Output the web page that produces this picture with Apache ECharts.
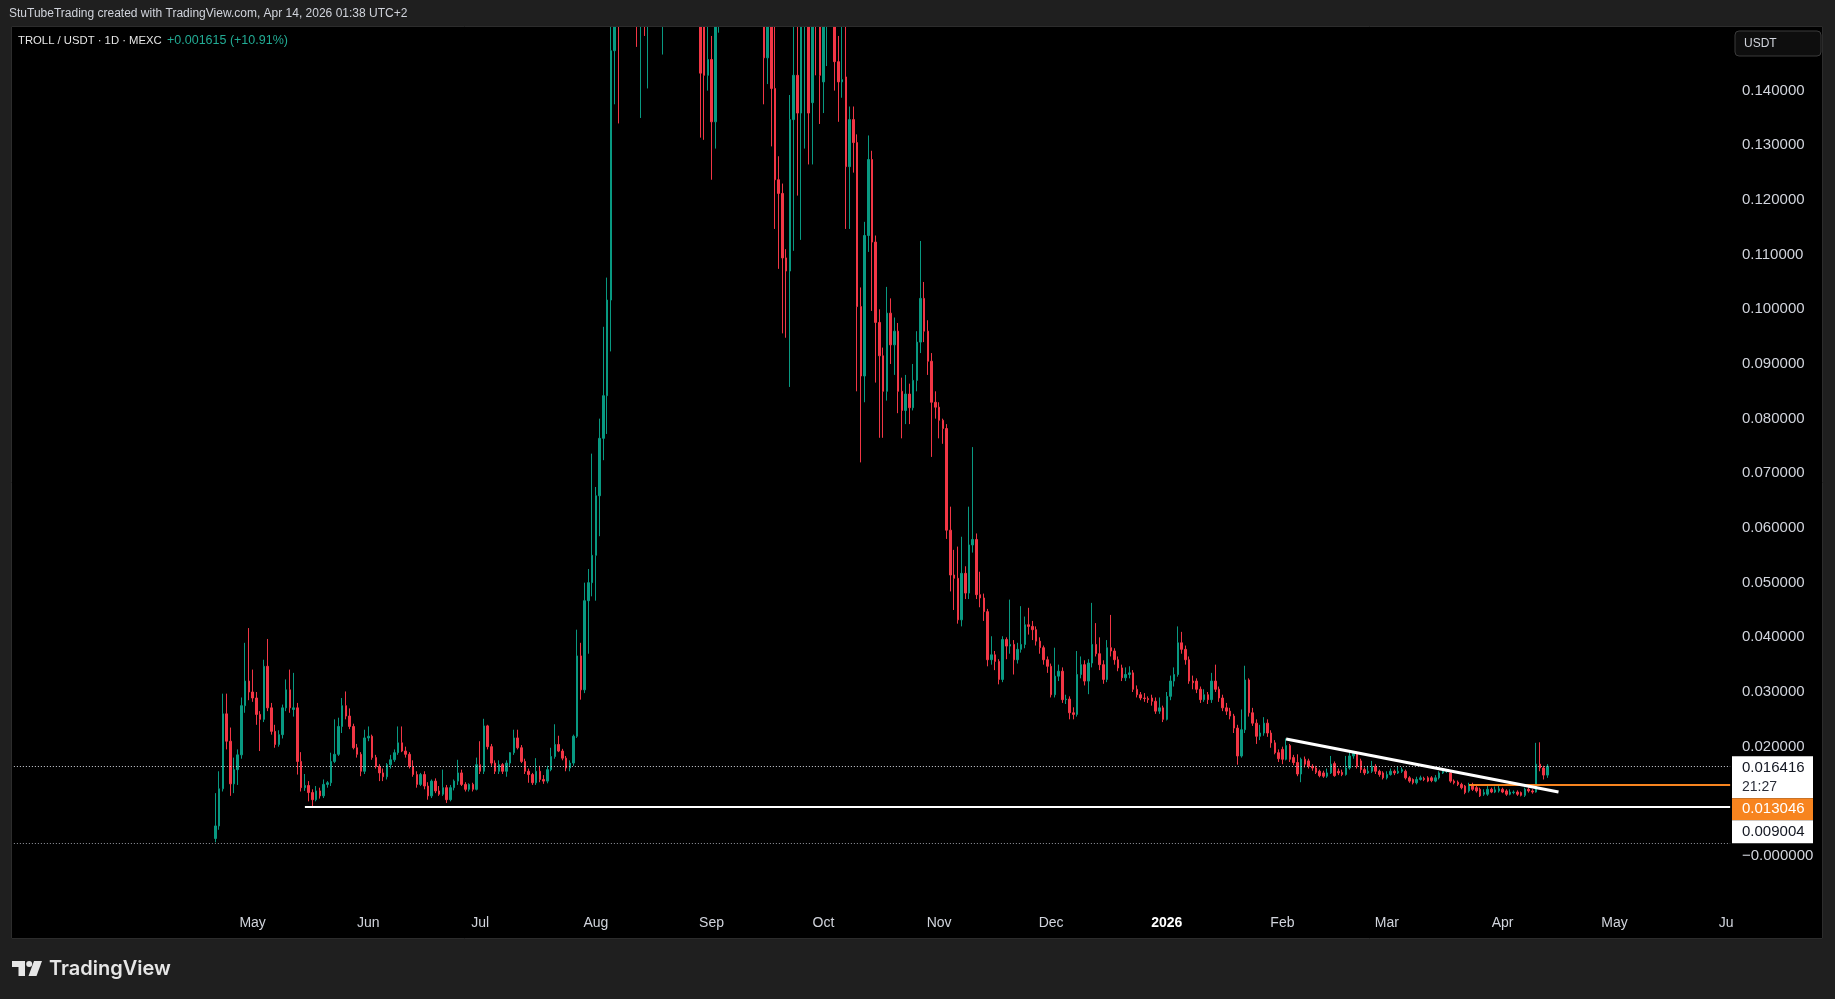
<!DOCTYPE html>
<html><head><meta charset="utf-8">
<script src="https://cdn.jsdelivr.net/npm/echarts@6/dist/echarts.min.js"></script>
<style>html,body{margin:0;padding:0;background:#1f1f1f;overflow:hidden}#c{width:1835px;height:999px}</style>
</head><body><div id="c"></div>
<script>
// ---- data (TROLL/USDT daily, MEXC) ----
const firstDay = '2025-04-21';
const opens = [
.0032,.0055,.0123,.0260,.0210,.0132,.0158,.0185,.0275,.0320,
.0300,.0289,.0259,.0250,.0347,.0271,.0228,.0204,.0222,.0271,
.0304,.0268,.0271,.0173,.0125,.0129,.0116,.0103,.0119,.0110,
.0131,.0134,.0173,.0186,.0237,.0275,.0256,.0237,.0198,.0186,
.0155,.0216,.0219,.0180,.0164,.0152,.0145,.0167,.0176,.0189,
.0207,.0192,.0186,.0164,.0149,.0131,.0149,.0128,.0110,.0137,
.0119,.0113,.0125,.0103,.0125,.0137,.0152,.0131,.0122,.0131,
.0122,.0167,.0155,.0238,.0200,.0170,.0155,.0167,.0155,.0170,
.0189,.0216,.0198,.0173,.0155,.0149,.0134,.0155,.0140,.0137,
.0158,.0182,.0204,.0192,.0179,.0161,.0170,.0219,.0366,.0304,
.0467,.0500,.0550,.0659,.0764,.0842,.1017,.1473,.20,.19,
.21,.23,.22,.21,.19,.20,.18,.20,.22,.21,
.20,.21,.22,.24,.23,.21,.19,.20,.21,.18,
.185,.158,.1428,.1457,.1343,.19,.20,.22,.24,.22,
.20,.19,.18,.20,.21,.19,.18,.19,.146,.17,
.1404,.1237,.1212,.1094,.1070,.1347,.1428,.1359,.17,.18,
.1378,.17,.16,.1416,.17,.18,.175,.1453,.1416,.1425,
.1261,.1347,.1305,.1005,.0878,.1135,.1274,.1123,.0976,.0915,
.0850,.0993,.0935,.0960,.0850,.0815,.0845,.0820,.0870,.0940,
.1020,.0960,.0905,.0830,.0821,.0797,.0782,.0596,.0514,.0508,
.0432,.0517,.0481,.0569,.0579,.0478,.0472,.0447,.0359,.0368,
.0356,.0323,.0396,.0384,.0387,.0359,.0378,.0387,.0423,.0420,
.0414,.0393,.0381,.0359,.0347,.0295,.0329,.0338,.0286,.0287,
.0262,.0259,.0332,.0350,.0320,.0353,.0387,.0370,.0350,.0323,
.0381,.0375,.0359,.0344,.0326,.0332,.0335,.0305,.0295,.0289,
.0288,.0289,.0283,.0265,.0271,.0250,.0292,.0320,.0332,.0390,
.0378,.0359,.0320,.0320,.0305,.0286,.0295,.0286,.0320,.0305,
.0289,.0271,.0265,.0256,.0234,.0183,.0231,.0322,.0262,.0243,
.0219,.0225,.0243,.0225,.0207,.0189,.0195,.0177,.0202,.0180,
.0171,.0150,.0177,.0174,.0164,.0161,.0155,.0152,.0146,.0152,
.0169,.0155,.0153,.0149,.0161,.0183,.0189,.0174,.0158,.0152,
.0155,.0164,.0155,.0152,.0143,.0149,.0155,.0152,.0155,.0155,
.0143,.0140,.0134,.0140,.0142,.0143,.0143,.0137,.0143,.0152,
.0155,.0152,.0137,.0135,.0131,.0128,.0119,.0128,.0125,.0122,
.0113,.0113,.0122,.0117,.0119,.0122,.0119,.0113,.0116,.0117,
.0116,.0111,.0122,.0119,.0117,.0168,.0161,.0148];
const highs = [
.0115,.0155,.0297,.0297,.0235,.0180,.0195,.0290,.0390,.0417,
.0341,.0300,.0265,.0359,.0397,.0280,.0240,.0230,.0277,.0323,
.0341,.0335,.0280,.0190,.0150,.0137,.0122,.0128,.0125,.0140,
.0137,.0189,.0250,.0253,.0289,.0301,.0270,.0242,.0205,.0190,
.0231,.0237,.0222,.0185,.0168,.0160,.0170,.0185,.0195,.0237,
.0237,.0200,.0190,.0175,.0155,.0152,.0155,.0135,.0140,.0142,
.0128,.0158,.0130,.0130,.0140,.0176,.0158,.0135,.0133,.0134,
.0180,.0210,.0251,.0240,.0205,.0175,.0175,.0170,.0175,.0190,
.0231,.0231,.0203,.0178,.0160,.0152,.0179,.0165,.0148,.0165,
.0198,.0241,.0220,.0196,.0183,.0175,.0222,.0414,.0390,.0500,
.0525,.0736,.0675,.0800,.0968,.1058,.175,.22,.23,.24,
.25,.26,.25,.23,.22,.22,.21,.23,.25,.24,
.23,.24,.26,.27,.25,.23,.22,.23,.23,.20,
.21,.17,.160,.150,.21,.22,.23,.25,.26,.24,
.22,.21,.21,.22,.23,.21,.20,.20,.19,.18,
.16,.128,.123,.111,.1392,.17,.17,.19,.20,.19,
.19,.18,.175,.19,.20,.20,.185,.150,.16,.16,
.1371,.1371,.1320,.1040,.1160,.1318,.1290,.1135,.1000,.0930,
.1041,.1020,.0985,.0975,.0875,.0880,.0864,.0900,.0960,.1125,
.1050,.0980,.0920,.0850,.0830,.0800,.0790,.0639,.0560,.0566,
.0584,.0530,.0639,.0748,.0590,.0520,.0480,.0452,.0402,.0375,
.0360,.0402,.0400,.0469,.0395,.0390,.0457,.0438,.0454,.0430,
.0420,.0400,.0385,.0365,.0352,.0381,.0350,.0345,.0295,.0292,
.0272,.0375,.0365,.0358,.0360,.0463,.0426,.0400,.0358,.0395,
.0441,.0380,.0365,.0350,.0345,.0347,.0340,.0312,.0300,.0298,
.0292,.0295,.0290,.0290,.0275,.0300,.0330,.0345,.0420,.0410,
.0385,.0365,.0330,.0325,.0310,.0305,.0300,.0335,.0350,.0310,
.0295,.0280,.0271,.0260,.0240,.0268,.0348,.0325,.0271,.0250,
.0240,.0254,.0250,.0230,.0212,.0195,.0200,.0215,.0205,.0185,
.0186,.0180,.0182,.0178,.0168,.0165,.0158,.0156,.0160,.0183,
.0173,.0160,.0158,.0183,.0190,.0192,.0191,.0178,.0162,.0165,
.0174,.0168,.0158,.0155,.0155,.0160,.0158,.0164,.0162,.0158,
.0146,.0142,.0145,.0147,.0145,.0146,.0146,.0148,.0155,.0160,
.0159,.0155,.0140,.0138,.0134,.0130,.0134,.0134,.0128,.0125,
.0122,.0128,.0125,.0127,.0128,.0125,.0122,.0122,.0120,.0120,
.0118,.0125,.0126,.0122,.0207,.0208,.0165,.0168];
const lows = [
.0025,.0048,.0118,.0195,.0110,.0115,.0130,.0178,.0262,.0285,
.0282,.0240,.0192,.0245,.0265,.0222,.0198,.0200,.0215,.0265,
.0262,.0255,.0149,.0118,.0119,.0100,.0090,.0100,.0105,.0106,
.0125,.0128,.0170,.0183,.0225,.0250,.0232,.0195,.0180,.0146,
.0150,.0210,.0176,.0160,.0137,.0137,.0140,.0160,.0172,.0185,
.0190,.0180,.0160,.0145,.0125,.0128,.0122,.0103,.0106,.0115,
.0110,.0110,.0097,.0100,.0120,.0130,.0128,.0118,.0118,.0118,
.0120,.0150,.0150,.0195,.0165,.0150,.0150,.0150,.0145,.0165,
.0185,.0195,.0170,.0150,.0134,.0130,.0130,.0135,.0132,.0133,
.0155,.0178,.0190,.0175,.0155,.0155,.0165,.0216,.0286,.0298,
.0370,.0475,.0467,.0585,.0724,.0772,.0923,.1375,.134,.165,
.19,.20,.19,.148,.135,.150,.1404,.18,.20,.19,
.1466,.19,.20,.22,.20,.18,.17,.18,.17,.16,
.1314,.1310,.1400,.1237,.1294,.1506,.18,.20,.21,.19,
.17,.165,.16,.18,.18,.165,.16,.1375,.1412,.1298,
.1147,.1074,.0956,.0948,.0858,.1107,.1208,.1127,.1294,.1265,
.1265,.1428,.1339,.1359,.1445,.156,.1400,.1343,.1387,.1147,
.1147,.1250,.0850,.0720,.0830,.1105,.0997,.0866,.0765,.0765,
.0833,.0900,.0880,.0810,.0764,.0790,.0790,.0815,.0850,.0920,
.0940,.0880,.0730,.0800,.0764,.0754,.0580,.0484,.0450,.0425,
.0420,.0470,.0470,.0555,.0470,.0455,.0430,.0347,.0350,.0340,
.0314,.0318,.0360,.0370,.0332,.0352,.0372,.0380,.0405,.0395,
.0385,.0370,.0350,.0335,.0290,.0290,.0320,.0280,.0278,.0250,
.0250,.0255,.0325,.0312,.0296,.0345,.0365,.0340,.0315,.0318,
.0365,.0350,.0338,.0320,.0320,.0325,.0300,.0290,.0285,.0282,
.0280,.0275,.0260,.0260,.0245,.0248,.0285,.0310,.0328,.0370,
.0350,.0315,.0305,.0298,.0280,.0282,.0278,.0280,.0300,.0282,
.0265,.0258,.0250,.0225,.0167,.0180,.0225,.0255,.0238,.0205,
.0212,.0220,.0218,.0198,.0186,.0172,.0168,.0175,.0172,.0166,
.0146,.0135,.0162,.0160,.0156,.0150,.0144,.0143,.0143,.0150,
.0145,.0148,.0146,.0147,.0158,.0178,.0160,.0152,.0148,.0150,
.0152,.0150,.0145,.0140,.0140,.0147,.0148,.0150,.0152,.0140,
.0134,.0131,.0131,.0138,.0137,.0135,.0135,.0135,.0140,.0150,
.0152,.0134,.0131,.0128,.0122,.0113,.0116,.0119,.0116,.0108,
.0110,.0110,.0115,.0115,.0116,.0115,.0110,.0111,.0113,.0110,
.0109,.0108,.0116,.0114,.0116,.0155,.0140,.0143];
const closes = [
.0055,.0123,.0260,.0210,.0132,.0158,.0185,.0275,.0320,.0300,
.0289,.0259,.0250,.0347,.0271,.0228,.0204,.0222,.0271,.0304,
.0271,.0271,.0173,.0125,.0129,.0116,.0103,.0119,.0110,.0131,
.0134,.0173,.0186,.0237,.0275,.0256,.0237,.0198,.0186,.0155,
.0216,.0219,.0180,.0164,.0152,.0145,.0167,.0176,.0189,.0207,
.0192,.0186,.0164,.0149,.0131,.0149,.0128,.0110,.0137,.0119,
.0113,.0125,.0103,.0125,.0137,.0152,.0131,.0122,.0131,.0122,
.0167,.0155,.0238,.0200,.0170,.0155,.0167,.0155,.0170,.0189,
.0216,.0198,.0173,.0155,.0149,.0134,.0155,.0140,.0137,.0158,
.0182,.0204,.0192,.0179,.0161,.0170,.0219,.0366,.0304,.0467,
.0500,.0550,.0659,.0764,.0842,.1017,.1473,.20,.19,.21,
.23,.22,.21,.19,.20,.18,.20,.22,.21,.20,
.21,.22,.24,.23,.21,.19,.20,.21,.18,.185,
.1432,.1428,.1457,.1343,.19,.20,.22,.24,.22,.20,
.19,.18,.20,.21,.19,.18,.19,.146,.17,.1404,
.1237,.1212,.1094,.1070,.1347,.1428,.1359,.17,.18,.1359,
.17,.16,.1428,.17,.18,.175,.1453,.1416,.1420,.1261,
.1347,.1305,.1005,.0878,.1135,.1274,.1123,.0976,.0915,.0850,
.0993,.0935,.0960,.0850,.0815,.0845,.0820,.0870,.0940,.1020,
.0960,.0905,.0830,.0821,.0797,.0782,.0596,.0514,.0508,.0432,
.0517,.0481,.0569,.0579,.0478,.0472,.0447,.0359,.0368,.0356,
.0323,.0396,.0384,.0387,.0359,.0378,.0387,.0423,.0420,.0414,
.0393,.0381,.0359,.0347,.0295,.0329,.0338,.0286,.0287,.0262,
.0259,.0332,.0350,.0320,.0353,.0387,.0370,.0350,.0323,.0381,
.0375,.0359,.0344,.0326,.0332,.0335,.0305,.0295,.0289,.0288,
.0286,.0283,.0265,.0271,.0250,.0292,.0320,.0332,.0390,.0378,
.0359,.0320,.0317,.0305,.0286,.0295,.0286,.0320,.0305,.0289,
.0271,.0265,.0256,.0234,.0183,.0231,.0322,.0262,.0243,.0219,
.0225,.0243,.0225,.0207,.0189,.0178,.0177,.0202,.0177,.0171,
.0150,.0177,.0168,.0164,.0161,.0153,.0147,.0146,.0152,.0168,
.0147,.0152,.0149,.0161,.0183,.0189,.0164,.0158,.0152,.0155,
.0164,.0155,.0149,.0143,.0149,.0155,.0152,.0155,.0158,.0143,
.0137,.0134,.0140,.0143,.0140,.0137,.0138,.0143,.0152,.0155,
.0157,.0137,.0134,.0131,.0125,.0116,.0128,.0122,.0119,.0110,
.0116,.0122,.0117,.0121,.0123,.0117,.0113,.0117,.0117,.0113,
.0111,.0122,.0119,.0117,.0168,.0161,.0148,.016416];

// axis / annotation values
const monthNames = ['Jan','Feb','Mar','Apr','May','Jun','Jul','Aug','Sep','Oct','Nov','Dec'];
const axisStartDay = -54, axisEndDay = 406;      // visible time range, days from firstDay
const yMin = -0.00951, yMax = 0.15164;            // visible price range
const yTickValues = [0, 0.02, 0.03, 0.04, 0.05, 0.06, 0.07, 0.08, 0.09, 0.10, 0.11, 0.12, 0.13, 0.14];
const lastPrice = 0.016416, lastTimer = '21:27';
const orangeLevel = 0.013046, orangeStartDay = 336;
const whiteLevel = 0.009004, whiteStartDay = 24;
const lowDottedLevel = 0.0024;
const trendDays = [287, 360], trendPrices = [0.0214, 0.0117];
const headerText = 'StuTubeTrading created with TradingView.com, Apr 14, 2026 01:38 UTC+2';
const symbolText = 'TROLL / USDT · 1D · MEXC';
const changeText = '+0.001615 (+10.91%)';

// ---- build ----
const base = Date.UTC(2025, 3, 21);
function dayStr(k) { return new Date(base + k * 86400000).toISOString().slice(0, 10); }
const cats = [];
for (let k = axisStartDay; k <= axisEndDay; k++) cats.push(dayStr(k));
const rows = opens.map((o, i) => [dayStr(i), o, closes[i], lows[i], highs[i]]);

const UP = '#089981', DOWN = '#f23645', TXT = '#d1d4dc';
const FONT = '"Liberation Sans", Arial, sans-serif';

const chart = echarts.init(document.getElementById('c'), null, { renderer: 'canvas' });
const option = {
  backgroundColor: '#000000',
  animation: false,
  grid: { left: 12, right: 103, top: 27, bottom: 91, containLabel: false },
  xAxis: {
    type: 'category', data: cats, boundaryGap: true,
    axisLine: { show: false }, axisTick: { show: false }, splitLine: { show: false },
    axisLabel: {
      color: TXT, fontSize: 14, fontFamily: FONT, margin: 8,
      interval: (idx, val) => val.slice(8) === '01' && val >= firstDay,
      formatter: (val) => {
        const m = +val.slice(5, 7) - 1;
        return m === 0 ? '{b|' + val.slice(0, 4) + '}' : monthNames[m];
      },
      rich: { b: { color: '#ffffff', fontWeight: 'bold', fontSize: 14, fontFamily: FONT } }
    }
  },
  yAxis: {
    type: 'value', position: 'right', min: yMin, max: yMax, scale: true,
    axisLine: { show: false }, axisTick: { show: false }, splitLine: { show: false },
    axisLabel: {
      customValues: yTickValues, color: TXT, fontSize: 15, fontFamily: FONT, margin: 10,
      formatter: (v) => Math.abs(v) < 1e-9 ? '\u22120.000000' : v.toFixed(6)
    }
  },
  series: [{
    type: 'candlestick',
    dimensions: ['date', 'open', 'close', 'lowest', 'highest'],
    encode: { x: 0, y: [1, 2, 3, 4] },
    data: rows, clip: true, barWidth: 2,
    itemStyle: { color: UP, color0: DOWN, borderColor: UP, borderColor0: DOWN, borderWidth: 1 },
    markLine: {
      silent: true, symbol: ['none', 'none'], animation: false, label: { show: false }, precision: 8,
      data: [
        [{ coord: [dayStr(axisStartDay), lastPrice], lineStyle: { type: [1, 2], color: '#d1d4dc', width: 1 } },
         { coord: [dayStr(axisEndDay), lastPrice] }],
        [{ coord: [dayStr(axisStartDay), lowDottedLevel], lineStyle: { type: [1, 2], color: '#9598a1', width: 1 } },
         { coord: [dayStr(axisEndDay), lowDottedLevel] }],
        [{ coord: [dayStr(whiteStartDay), whiteLevel], lineStyle: { type: 'solid', color: '#ffffff', width: 2 } },
         { coord: [dayStr(axisEndDay), whiteLevel] }],
        [{ coord: [dayStr(orangeStartDay), orangeLevel], lineStyle: { type: 'solid', color: '#f7841f', width: 2 } },
         { coord: [dayStr(axisEndDay), orangeLevel] }],
        [{ coord: [dayStr(trendDays[0]), trendPrices[0]], lineStyle: { type: 'solid', color: '#ffffff', width: 3 } },
         { coord: [dayStr(trendDays[1]), trendPrices[1]] }]
      ]
    }
  }]
};
chart.setOption(option);

// ---- overlay: frame, header, tags, logo ----
const yOf = (v) => chart.convertToPixel({ yAxisIndex: 0 }, v);
const tag1Top = yOf(lastPrice) - 10;
const tag2Top = Math.max(yOf(orangeLevel) - 11, tag1Top + 42);
const tag3Top = Math.max(yOf(whiteLevel) - 11, tag2Top + 22);
const FR = '#1f1f1f';
const g = [
  { type: 'rect', z: 100, shape: { x: 0, y: 0, width: 1835, height: 26 }, style: { fill: FR } },
  { type: 'rect', z: 100, shape: { x: 0, y: 939, width: 1835, height: 60 }, style: { fill: FR } },
  { type: 'rect', z: 100, shape: { x: 0, y: 0, width: 11, height: 999 }, style: { fill: FR } },
  { type: 'rect', z: 100, shape: { x: 1823, y: 0, width: 12, height: 999 }, style: { fill: FR } },
  { type: 'rect', z: 101, shape: { x: 11.5, y: 26.5, width: 1811, height: 912 }, style: { fill: null, stroke: '#2c2c2c', lineWidth: 1 } },
  { type: 'rect', z: 99, shape: { x: 1733, y: 909, width: 89, height: 29 }, style: { fill: '#000' } },
  { type: 'text', z: 102, x: 9, y: 14, style: { text: headerText, fill: TXT, font: '12px ' + FONT, verticalAlign: 'middle' } },
  { type: 'text', z: 102, x: 18, y: 41, style: { text: symbolText, fill: '#e6e6e6', font: '11.3px ' + FONT, verticalAlign: 'middle' } },
  { type: 'text', z: 102, x: 167, y: 41, style: { text: changeText, fill: '#22ab94', font: '12.5px ' + FONT, verticalAlign: 'middle' } },
  { type: 'rect', z: 102, shape: { x: 1735, y: 31, width: 86, height: 25, r: 4 }, style: { fill: '#0e0e0e', stroke: '#3a3a3a', lineWidth: 1 } },
  { type: 'text', z: 103, x: 1744, y: 43.5, style: { text: 'USDT', fill: TXT, font: '12px ' + FONT, verticalAlign: 'middle' } },
  // price tags
  { type: 'rect', z: 102, shape: { x: 1732, y: tag1Top, width: 81, height: 42 }, style: { fill: '#ffffff' } },
  { type: 'text', z: 103, x: 1742, y: tag1Top + 12, style: { text: lastPrice.toFixed(6), fill: '#131722', font: '15px ' + FONT, verticalAlign: 'middle' } },
  { type: 'text', z: 103, x: 1742, y: tag1Top + 31, style: { text: lastTimer, fill: '#2a2e39', font: '14px ' + FONT, verticalAlign: 'middle' } },
  { type: 'rect', z: 102, shape: { x: 1732, y: tag2Top, width: 81, height: 22 }, style: { fill: '#f7841f' } },
  { type: 'text', z: 103, x: 1742, y: tag2Top + 11, style: { text: orangeLevel.toFixed(6), fill: '#ffffff', font: '15px ' + FONT, verticalAlign: 'middle' } },
  { type: 'rect', z: 102, shape: { x: 1732, y: tag3Top, width: 81, height: 23 }, style: { fill: '#ffffff' } },
  { type: 'text', z: 103, x: 1742, y: tag3Top + 11.5, style: { text: whiteLevel.toFixed(6), fill: '#131722', font: '15px ' + FONT, verticalAlign: 'middle' } },
  // TradingView logo
  { type: 'polygon', z: 102, shape: { points: [[12, 961], [25, 961], [25, 976], [18.5, 976], [18.5, 967], [12, 967]] }, style: { fill: '#e6e6e6' } },
  { type: 'circle', z: 102, shape: { cx: 29.2, cy: 964, r: 3 }, style: { fill: '#e6e6e6' } },
  { type: 'polygon', z: 102, shape: { points: [[34, 961], [42, 961], [36.5, 976], [28.5, 976]] }, style: { fill: '#e6e6e6' } },
  { type: 'text', z: 102, x: 49, y: 969, style: { text: 'TradingView', fill: '#e6e6e6', font: '600 20px Inter, ' + FONT, verticalAlign: 'middle' } }
];
chart.setOption({ graphic: g });
</script>
</body></html>
